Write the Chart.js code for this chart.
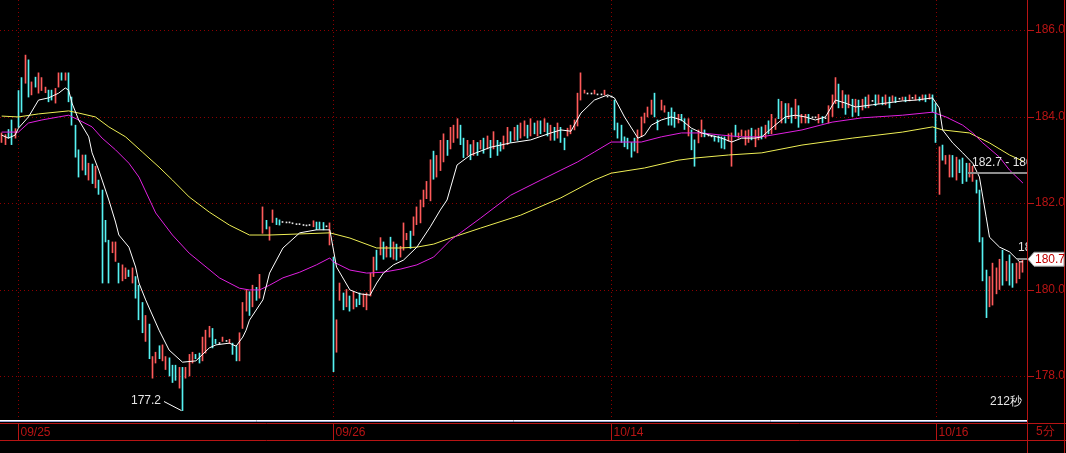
<!DOCTYPE html>
<html>
<head>
<meta charset="utf-8">
<script src="https://cdn.jsdelivr.net/npm/chart.js@4.4.1/dist/chart.umd.min.js"></script>
<style>
html, body { margin: 0; padding: 0; background: #000; overflow: hidden; }
</style>
</head>
<body>
<canvas id="kline" width="1066" height="453"></canvas>
<script>
// 5 minute bars (low / high / up=1 down=0)
const lows = [
  183.40,183.35,183.50,183.35,183.50,183.75,184.10,184.77,184.45,184.50,
  184.68,184.54,184.60,184.55,184.34,184.38,184.31,184.68,184.84,184.84,
  184.34,183.80,183.06,182.60,182.76,182.65,182.53,182.45,182.35,182.20,
  180.15,181.10,180.15,180.85,180.65,180.15,180.20,180.25,180.30,180.15,
  179.80,179.30,179.00,178.80,178.40,177.95,178.30,178.40,178.35,178.15,
  178.00,177.85,177.90,177.72,177.20,177.95,178.00,178.30,178.40,178.30,
  178.35,178.53,178.90,178.65,178.75,178.75,178.80,178.80,178.75,178.50,
  178.35,178.35,179.10,179.50,179.40,179.60,179.75,179.80,181.30,181.40,
  181.14,181.55,181.50,181.49,181.55,181.54,181.54,181.52,181.50,181.50,
  181.48,181.47,181.48,181.45,181.38,181.40,181.38,181.45,181.03,178.10,
  178.55,179.75,179.53,179.60,179.50,179.55,179.60,179.65,179.60,179.53,
  179.85,180.30,180.45,180.80,180.70,180.75,180.75,180.70,180.68,180.75,
  180.91,181.15,180.95,181.25,181.50,181.54,181.91,182.10,182.05,182.55,
  182.60,182.75,182.95,183.10,183.25,183.40,183.50,183.35,183.05,183.10,
  183.00,183.10,183.10,183.25,183.15,183.25,183.05,183.25,183.10,183.20,
  183.25,183.35,183.40,183.45,183.45,183.50,183.55,183.50,183.55,183.60,
  183.55,183.60,183.65,183.55,183.45,183.45,183.50,183.40,183.23,183.55,
  183.60,183.69,183.78,184.38,184.54,184.52,184.52,184.52,184.50,184.50,
  184.50,184.45,184.45,183.69,183.50,183.40,183.30,183.25,183.06,183.20,
  183.16,183.53,183.85,183.99,184.05,183.99,183.69,184.15,184.10,183.80,
  183.80,183.75,183.85,183.90,183.70,183.55,183.23,182.85,183.39,183.53,
  183.53,183.55,183.53,183.43,183.41,183.27,183.25,183.43,182.85,183.53,
  183.50,183.55,183.34,183.40,183.46,183.30,183.46,183.48,183.50,183.60,
  183.60,183.70,183.95,183.85,183.85,183.95,183.85,183.95,183.75,183.85,
  183.85,183.85,183.97,183.97,183.85,183.85,183.95,183.85,184.00,184.30,
  184.20,184.20,184.05,184.20,184.00,184.10,184.02,184.15,184.20,184.20,
  184.35,184.25,184.30,184.27,184.27,184.20,184.35,184.32,184.40,184.38,
  184.34,184.36,184.42,184.38,184.36,184.38,184.34,184.40,184.10,183.40,
  182.20,182.99,182.90,182.60,182.60,182.53,182.70,182.45,182.50,182.60,
  182.50,182.23,181.10,180.20,179.35,179.60,179.64,179.90,180.00,180.10,
  180.20,180.10,180.05,180.15,180.25,180.40
];
const highs = [
  183.62,183.58,183.70,183.92,183.72,184.60,184.90,185.42,185.31,184.80,
  184.91,185.01,184.90,184.68,184.61,184.61,184.65,185.01,185.01,185.01,
  185.01,184.45,183.80,183.23,183.11,183.11,182.92,182.90,182.85,182.53,
  182.30,181.60,181.14,181.10,181.10,180.61,180.57,180.50,180.45,180.50,
  180.30,180.10,179.70,179.40,179.20,178.45,178.55,178.70,178.72,178.45,
  178.42,178.25,178.25,178.20,178.20,178.20,178.50,178.55,178.50,178.53,
  178.90,179.06,179.15,179.10,178.85,178.75,178.90,178.80,178.85,178.76,
  178.70,179.00,179.70,180.00,179.95,180.10,180.05,180.35,181.91,181.60,
  181.45,181.84,181.65,181.61,181.55,181.54,181.54,181.52,181.50,181.50,
  181.48,181.47,181.48,181.59,181.56,181.56,181.55,181.45,181.54,180.75,
  179.30,180.15,179.92,180.00,179.85,179.95,179.78,179.92,179.90,179.92,
  180.38,180.75,180.91,181.20,181.10,181.00,181.21,181.10,181.05,181.00,
  181.54,181.30,181.35,181.68,181.91,182.07,182.30,182.50,183.00,183.20,
  183.10,183.45,183.60,183.45,183.75,183.80,183.95,183.80,183.50,183.45,
  183.35,183.45,183.40,183.45,183.50,183.55,183.45,183.65,183.45,183.40,
  183.55,183.75,183.65,183.75,183.80,183.85,183.90,183.80,183.95,183.85,
  183.90,183.90,183.95,183.85,183.80,183.75,183.85,183.75,183.50,183.73,
  183.80,183.92,184.54,185.01,184.61,184.52,184.52,184.61,184.50,184.50,
  184.61,184.45,184.45,184.38,183.85,183.80,183.53,183.50,183.40,183.50,
  183.69,183.99,184.08,184.22,184.38,184.54,183.92,184.38,184.25,184.10,
  184.20,184.10,184.05,184.05,183.95,183.95,183.69,183.46,183.69,183.92,
  183.69,183.55,183.53,183.55,183.55,183.53,183.53,183.60,183.62,183.80,
  183.62,183.69,183.67,183.69,183.73,183.69,183.73,183.76,183.80,183.90,
  184.05,183.95,184.40,184.35,184.30,184.30,184.20,184.40,184.25,184.05,
  184.05,184.05,183.97,183.97,184.05,184.00,183.95,184.25,184.50,184.90,
  184.75,184.60,184.50,184.50,184.40,184.40,184.38,184.40,184.45,184.50,
  184.35,184.50,184.50,184.45,184.50,184.45,184.48,184.45,184.40,184.45,
  184.45,184.50,184.42,184.50,184.45,184.50,184.50,184.52,184.50,184.30,
  183.30,183.34,183.10,183.11,183.10,183.06,183.00,183.04,182.92,182.92,
  182.85,182.53,182.30,181.20,180.45,180.30,180.61,180.50,180.70,180.91,
  180.65,180.80,180.60,180.61,180.64,180.70
];
const ups = [
  1,1,0,0,1,0,0,1,0,1, 0,1,1,1,0,0,1,1,0,1, 0,0,0,0,1,0,1,0,1,0,
  0,0,0,1,1,0,1,1,0,1, 0,0,0,1,0,1,1,0,1,1, 0,0,0,1,0,1,1,1,0,0,
  1,1,1,0,0,0,1,1,1,0, 0,1,1,1,0,1,0,1,1,0, 1,1,0,0,1,1,0,1,0,1,
  0,1,0,1,0,0,0,1,1,0, 1,1,0,1,0,1,0,0,1,1, 1,1,0,1,0,1,0,1,0,1,
  1,1,0,1,1,1,1,1,1,0, 1,1,1,0,1,1,1,0,0,1, 0,1,0,1,0,1,0,1,0,0,
  1,1,0,1,0,1,1,0,1,0, 1,0,1,0,1,0,1,0,0,1, 1,1,1,1,1,1,0,1,1,0,
  1,1,0,0,0,0,0,0,0,0, 1,1,1,1,1,0,0,1,1,0, 0,0,1,0,0,1,0,0,1,1,
  0,1,0,0,0,0,0,1,1,0, 1,1,1,1,0,1,1,0,1,0, 1,1,0,1,0,1,0,1,0,1,
  1,0,1,0,1,0,1,1,1,1, 0,1,0,1,0,1,0,1,0,1, 1,0,1,0,1,0,1,0,1,1,
  0,1,0,1,0,1,0,1,0,0, 1,0,1,1,0,1,0,0,0,1, 1,0,0,0,0,1,1,1,1,0,
  1,0,0,1,1,1
];

// moving averages, [bar index, value]
const maShort = [
  [0,183.57],[2,183.50],[4,183.57],[5,183.73],[8,183.99],[11,184.38],[14,184.43],[17,184.54],
  [19,184.66],[20,184.61],[21,184.31],[23,183.92],[26,183.53],[27,183.16],[29,182.76],[30,182.53],
  [32,182.07],[34,181.56],[35,181.26],[38,180.98],[40,180.52],[41,180.15],[43,179.76],[47,179.06],
  [50,178.60],[54,178.32],[58,178.35],[62,178.65],[64,178.72],[68,178.76],[70,178.69],[72,178.90],
  [73,179.06],[74,179.29],[78,179.76],[80,180.38],[84,180.96],[89,181.31],[94,181.38],[98,181.38],
  [100,180.52],[104,179.99],[107,179.90],[110,179.87],[112,180.15],[114,180.38],[117,180.57],
  [120,180.68],[124,180.98],[128,181.45],[131,181.84],[133,182.07],[136,182.88],[140,183.11],
  [146,183.29],[152,183.39],[158,183.46],[164,183.62],[167,183.69],[170,183.66],[173,184.08],
  [177,184.38],[181,184.50],[183,184.43],[186,183.99],[190,183.50],[192,183.57],[194,183.80],
  [197,183.92],[200,183.99],[203,183.92],[206,183.73],[209,183.62],[215,183.50],[218,183.41],
  [221,183.50],[225,183.50],[227,183.53],[231,183.80],[234,183.99],[237,184.03],[240,183.99],
  [243,183.92],[246,183.99],[249,184.38],[252,184.31],[255,184.22],[260,184.27],[264,184.31],
  [269,184.36],[273,184.38],[278,184.43],[280,184.20],[281,183.69],[284,183.39],[287,183.16],
  [290,182.92],[292,182.60],[293,182.14],[294,181.68],[295,181.21],[298,180.98],[301,180.87],
  [304,180.64],[305,180.64]
];
const maMid = [
  [0,183.64],[5,183.64],[8,183.85],[12,183.92],[17,183.99],[20,184.03],[23,183.92],[27,183.76],
  [30,183.50],[34,183.23],[38,182.92],[41,182.60],[46,181.77],[51,181.26],[56,180.84],[65,180.27],
  [71,180.03],[74,179.99],[77,179.99],[80,180.10],[84,180.27],[89,180.40],[94,180.57],[98,180.73],
  [99,180.64],[104,180.45],[109,180.38],[114,180.40],[119,180.47],[124,180.57],[129,180.75],
  [134,181.14],[143,181.65],[152,182.18],[161,182.53],[167,182.76],[172,182.95],[177,183.18],
  [182,183.41],[191,183.41],[197,183.53],[203,183.62],[209,183.62],[215,183.57],[221,183.53],
  [227,183.53],[239,183.69],[248,183.87],[257,183.97],[269,184.03],[278,184.10],[282,183.99],
  [287,183.80],[290,183.62],[293,183.39],[298,183.06],[301,182.76],[305,182.46]
];
const maLong = [
  [0,184.01],[5,183.99],[11,184.06],[20,184.13],[23,184.08],[28,183.99],[32,183.76],[37,183.53],
  [42,183.18],[47,182.83],[51,182.53],[56,182.14],[62,181.79],[68,181.49],[74,181.26],[80,181.26],
  [98,181.31],[104,181.19],[112,180.96],[119,180.96],[124,180.98],[129,181.05],[134,181.19],
  [143,181.42],[155,181.72],[167,182.12],[177,182.53],[182,182.69],[192,182.81],[202,182.99],
  [207,183.04],[217,183.11],[227,183.16],[239,183.34],[254,183.50],[269,183.64],[278,183.76],
  [281,183.69],[289,183.62],[295,183.39],[301,183.11],[305,182.97]
];

const yTicks = [178, 180, 182, 184, 186];
const dateLabels = ['09/25', '09/26', '10/14', '10/16'];
const dateIdx = [5, 99, 182, 279];
const lastPrice = 180.7;
const markPrice = 182.7;
const lowIdx = 54;
const lowPrice = 177.2;
const periodText = '5分';
const timerText = '212秒';

const RED = '#b81414';
const FONT = '12px "Liberation Sans", Arial, sans-serif';

const bars = lows.map((lo, i) => ({ x: i, y: [lo, highs[i]] }));
const barColors = lows.map((lo, i) => lo === highs[i] ? '#e8e8e8' : (ups[i] ? '#ff5a5a' : '#56f2f2'));
const toXY = arr => arr.map(p => ({ x: p[0], y: p[1] }));

function hline(ctx, x1, x2, y, color, w) {
  ctx.strokeStyle = color; ctx.lineWidth = w || 1;
  ctx.beginPath(); ctx.moveTo(x1, y); ctx.lineTo(x2, y); ctx.stroke();
}
function vline(ctx, x, y1, y2, color) {
  ctx.strokeStyle = color; ctx.lineWidth = 1;
  ctx.beginPath(); ctx.moveTo(x, y1); ctx.lineTo(x, y2); ctx.stroke();
}

const decor = {
  id: 'decor',
  beforeDraw(chart) {
    const ctx = chart.ctx;
    ctx.save();
    ctx.fillStyle = '#000';
    ctx.fillRect(0, 0, chart.width, chart.height);
    ctx.restore();
  },
  beforeDatasetsDraw(chart) {
    const { ctx, chartArea: a, scales: { x, y } } = chart;
    // keep the 1px candles on whole pixel columns
    chart.getDatasetMeta(3).data.forEach(el => { el.x = Math.floor(el.x) + 0.5; });
    ctx.save();
    ctx.setLineDash([1, 3]);
    yTicks.forEach(v => {
      const py = Math.round(y.getPixelForValue(v)) + 0.5;
      hline(ctx, a.left, a.right, py, '#8c0000');
    });
    dateIdx.forEach(i => {
      const px = Math.round(x.getPixelForValue(i)) + 0.5;
      vline(ctx, px, a.top, a.bottom, '#8c0000');
    });
    ctx.restore();
  },
  afterDraw(chart) {
    const { ctx, chartArea: a, scales: { x, y } } = chart;
    const W = chart.width, H = chart.height;
    ctx.save();
    ctx.font = FONT;

    // price marker line with its label, cut at the plot edge
    ctx.save();
    ctx.beginPath(); ctx.rect(a.left, a.top, a.right - a.left - 1, a.bottom - a.top); ctx.clip();
    const my = Math.round(y.getPixelForValue(markPrice));
    hline(ctx, 968, a.right, my, '#8e8e8e', 2);
    ctx.fillStyle = '#e6e6e6'; ctx.textBaseline = 'middle'; ctx.textAlign = 'left';
    ctx.fillText(markPrice.toFixed(1) + ' - ' + lastPrice.toFixed(1), 972, my - 10);
    const ly = Math.round(y.getPixelForValue(lastPrice));
    hline(ctx, 1017, a.right, ly, '#8e8e8e', 2);
    ctx.fillText(lastPrice.toFixed(1), 1018, ly - 11);
    ctx.restore();

    // low annotation
    const lx = x.getPixelForValue(lowIdx), lpy = y.getPixelForValue(lowPrice);
    ctx.fillStyle = '#e6e6e6'; ctx.textAlign = 'right'; ctx.textBaseline = 'middle';
    ctx.fillText(lowPrice.toFixed(1), 161, 401);
    ctx.strokeStyle = '#ffffff'; ctx.lineWidth = 1;
    ctx.beginPath(); ctx.moveTo(164, 401.5); ctx.lineTo(lx - 1, lpy); ctx.stroke();

    // countdown
    ctx.fillText(timerText, 1022, 402);

    // frame lines
    hline(ctx, 0, a.right - 1, 420.5, '#ffffff');
    hline(ctx, 0, a.right - 1, 421.5, '#9aa6d6');
    hline(ctx, 0, W, 423.5, RED);
    hline(ctx, 0, W, 440.5, RED);
    vline(ctx, 1027.5, 0, H, RED);
    vline(ctx, 1064.5, 0, H, RED);
    yTicks.forEach(v => {
      const py = Math.round(y.getPixelForValue(v)) + 0.5;
      hline(ctx, 1028, 1034, py, RED);
    });

    // date row
    ctx.textAlign = 'left'; ctx.textBaseline = 'middle'; ctx.fillStyle = RED;
    dateIdx.forEach((i, k) => {
      const px = Math.round(x.getPixelForValue(i)) + 0.5;
      vline(ctx, px, 424, 440, RED);
      ctx.fillText(dateLabels[k], px + 2, 433);
    });
    ctx.fillText(periodText, 1036, 432);

    // last price tag
    const ty = y.getPixelForValue(lastPrice);
    ctx.fillStyle = '#ffffff'; ctx.strokeStyle = '#9a9a9a'; ctx.lineWidth = 1;
    ctx.beginPath();
    ctx.moveTo(1028, ty); ctx.lineTo(1034, ty - 7); ctx.lineTo(1064, ty - 7);
    ctx.lineTo(1064, ty + 7); ctx.lineTo(1034, ty + 7); ctx.closePath();
    ctx.fill(); ctx.stroke();
    ctx.fillStyle = '#c00000';
    ctx.fillText(lastPrice.toFixed(1), 1035, ty + 0.5);
    ctx.restore();
  }
};

new Chart(document.getElementById('kline'), {
  type: 'bar',
  data: {
    datasets: [
      { type: 'line', data: toXY(maShort), borderColor: '#ffffff', borderWidth: 1, pointRadius: 0, tension: 0, order: 0 },
      { type: 'line', data: toXY(maMid), borderColor: '#e020e0', borderWidth: 1, pointRadius: 0, tension: 0, order: 1 },
      { type: 'line', data: toXY(maLong), borderColor: '#eeee55', borderWidth: 1, pointRadius: 0, tension: 0, order: 2 },
      { type: 'bar', data: bars, backgroundColor: barColors, barThickness: 1, minBarLength: 1, order: 3 }
    ]
  },
  options: {
    responsive: false,
    animation: false,
    devicePixelRatio: 1,
    layout: { padding: { left: 0, right: 0, top: 0, bottom: 33 } },
    plugins: { legend: { display: false }, tooltip: { enabled: false } },
    scales: {
      x: { type: 'linear', min: -0.5, max: 306.5, display: false, offset: false },
      y: {
        position: 'right',
        min: 176.983,
        max: 186.694,
        afterBuildTicks: s => { s.ticks = yTicks.map(v => ({ value: v })); },
        afterFit: s => { s.width = 38; s.paddingTop = 0; s.paddingBottom = 0; },
        grid: { display: false, drawTicks: true, tickLength: 6 },
        border: { display: false },
        ticks: {
          color: RED,
          padding: 1,
          font: { family: '"Liberation Sans", Arial, sans-serif', size: 12 },
          callback: v => Number(v).toFixed(1)
        }
      }
    }
  },
  plugins: [decor]
});
</script>
</body>
</html>
